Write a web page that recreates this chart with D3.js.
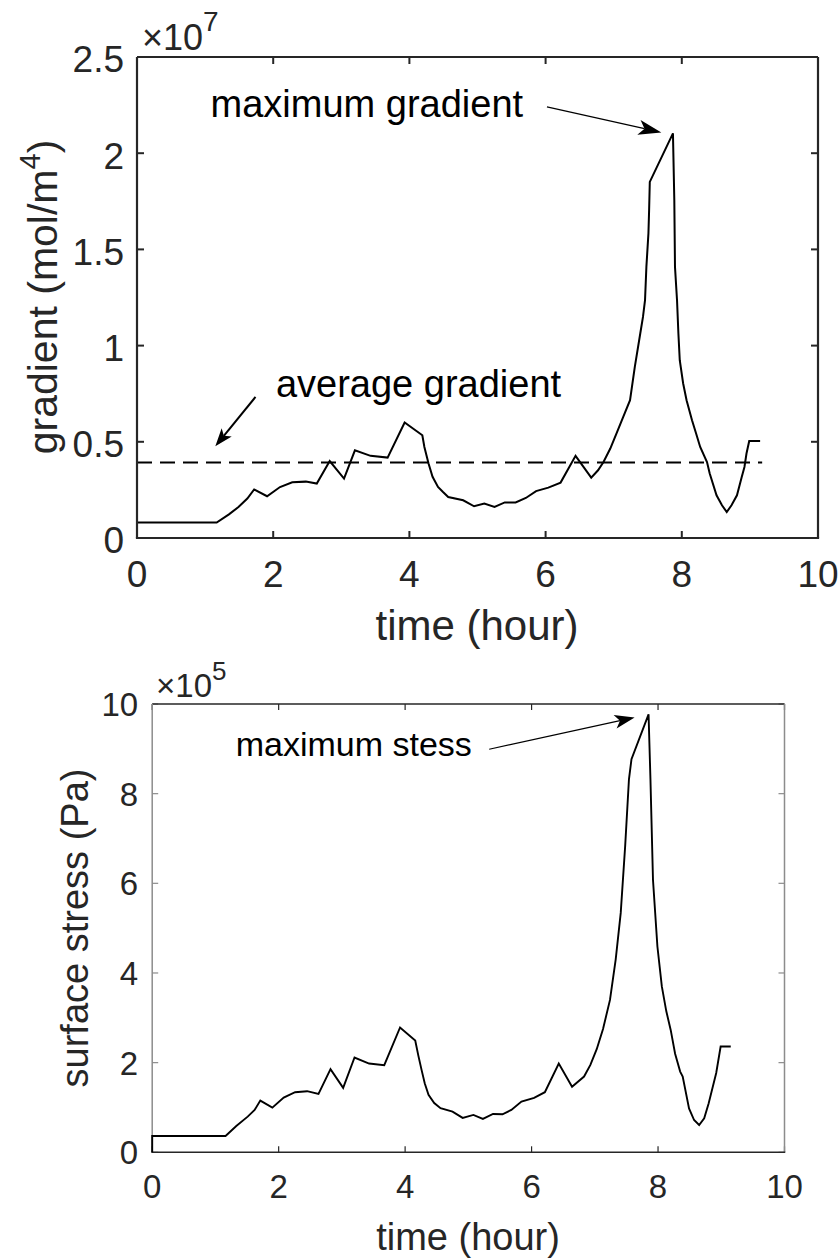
<!DOCTYPE html>
<html>
<head>
<meta charset="utf-8">
<script src="https://cdn.jsdelivr.net/npm/d3@7"></script>
<style>
  html, body { margin: 0; padding: 0; background: #fff; }
  svg { display: block; }
  text { font-family: "Liberation Sans", Arial, Helvetica, sans-serif; }
</style>
</head>
<body>
<svg id="chart" width="840" height="1260"></svg>
<script>
// ---------------- DATA ----------------
// Top panel: concentration gradient (units of 1e7 mol/m^4) vs time (hour)
const gradTime = [0, 0, 1.17, 1.35, 1.49, 1.62, 1.72, 1.91, 2.10, 2.28, 2.48, 2.64, 2.83, 3.04, 3.20, 3.43, 3.68, 3.93, 4.19, 4.22, 4.28, 4.34, 4.42, 4.49, 4.57, 4.79, 4.95, 5.10, 5.25, 5.40, 5.56, 5.71, 5.86, 6.04, 6.22, 6.44, 6.67, 6.77, 6.85, 6.95, 7.04, 7.14, 7.24, 7.31, 7.39, 7.43, 7.46, 7.48, 7.51, 7.52, 7.53, 7.87, 7.89, 7.90, 7.93, 7.95, 7.97, 8.02, 8.07, 8.15, 8.21, 8.27, 8.37, 8.41, 8.51, 8.59, 8.66, 8.73, 8.81, 8.88, 8.92, 8.95, 8.99, 9.15];
const gradValue = [0, 0.080, 0.080, 0.123, 0.161, 0.205, 0.252, 0.217, 0.265, 0.290, 0.293, 0.283, 0.400, 0.309, 0.456, 0.427, 0.418, 0.600, 0.534, 0.473, 0.388, 0.318, 0.265, 0.240, 0.213, 0.196, 0.165, 0.179, 0.162, 0.185, 0.185, 0.208, 0.244, 0.262, 0.288, 0.427, 0.314, 0.352, 0.395, 0.465, 0.543, 0.629, 0.716, 0.889, 1.063, 1.149, 1.236, 1.409, 1.583, 1.704, 1.851, 2.103, 1.756, 1.409, 1.236, 1.063, 0.924, 0.803, 0.716, 0.612, 0.543, 0.473, 0.395, 0.335, 0.222, 0.170, 0.135, 0.170, 0.222, 0.317, 0.369, 0.439, 0.504, 0.504];
const gradAverage = 0.392;          // dashed line value (x1e7)
const gradAverageSpan = [0, 9.18];  // hours

// Bottom panel: surface stress (units of 1e5 Pa) vs time (hour)
const stressTime = [0, 0, 1.16, 1.33, 1.51, 1.62, 1.71, 1.90, 2.08, 2.26, 2.45, 2.63, 2.82, 3.02, 3.20, 3.43, 3.67, 3.92, 4.16, 4.21, 4.26, 4.31, 4.37, 4.46, 4.56, 4.75, 4.91, 5.08, 5.23, 5.39, 5.54, 5.68, 5.84, 6.04, 6.21, 6.43, 6.64, 6.83, 6.93, 7.03, 7.13, 7.24, 7.33, 7.41, 7.48, 7.54, 7.58, 7.85, 7.88, 7.92, 7.99, 8.06, 8.13, 8.20, 8.27, 8.35, 8.39, 8.49, 8.57, 8.65, 8.73, 8.80, 8.92, 8.99, 9.15];
const stressValue = [0, 0.364, 0.364, 0.588, 0.796, 0.945, 1.153, 0.997, 1.220, 1.341, 1.363, 1.303, 1.854, 1.437, 2.114, 1.980, 1.944, 2.785, 2.494, 2.150, 1.839, 1.540, 1.280, 1.100, 0.983, 0.907, 0.767, 0.834, 0.744, 0.856, 0.849, 0.945, 1.131, 1.213, 1.341, 1.980, 1.462, 1.690, 1.950, 2.300, 2.750, 3.400, 4.300, 5.340, 6.830, 8.320, 8.770, 9.770, 8.320, 6.080, 4.590, 3.700, 3.150, 2.730, 2.200, 1.800, 1.690, 0.980, 0.720, 0.610, 0.760, 1.090, 1.770, 2.360, 2.360];

// Tick labels
const xTicks = [0, 2, 4, 6, 8, 10];
const gradTicks = [0, 0.5, 1, 1.5, 2, 2.5];
const gradTickLabels = ["0", "0.5", "1", "1.5", "2", "2.5"];
const stressTicks = [0, 2, 4, 6, 8, 10];
const stressTickLabels = ["0", "2", "4", "6", "8", "10"];

// Texts
const xLabel = "time (hour)";
const gradLabel = ["gradient (mol/m", "4", ")"];
const stressLabel = "surface stress (Pa)";
const gradExponent = "7";
const stressExponent = "5";
const annMaxGrad = "maximum gradient";
const annAvgGrad = "average gradient";
const annMaxStress = "maximum stess";

// ---------------- DRAW ----------------
const svg = d3.select("#chart");
const INK = "#262626";

function arrow(g, x1, y1, x2, y2, width, headLen, headW) {
  const ang = Math.atan2(y2 - y1, x2 - x1);
  const ux = Math.cos(ang), uy = Math.sin(ang);
  const px = -uy, py = ux;
  const bx = x2 - ux * headLen, by = y2 - uy * headLen;
  const nx = x2 - ux * headLen * 0.75, ny = y2 - uy * headLen * 0.75;
  g.append("line")
    .attr("x1", x1).attr("y1", y1).attr("x2", nx).attr("y2", ny)
    .attr("stroke", "#000").attr("stroke-width", width);
  g.append("path")
    .attr("d", `M${x2},${y2} L${bx + px * headW / 2},${by + py * headW / 2} L${nx},${ny} L${bx - px * headW / 2},${by - py * headW / 2} Z`)
    .attr("fill", "#000");
}

function drawFrame(g, x, y, yTicks, yTickLabels, o) {
  const [x0, x1] = x.range();
  const [y0, y1] = y.range();
  xTicks.forEach(t => {
    const px = x(t);
    g.append("line").attr("x1", px).attr("x2", px).attr("y1", y0).attr("y2", y0 - o.tickLen)
      .attr("stroke", o.bottomColor).attr("stroke-width", o.tickW);
    g.append("line").attr("x1", px).attr("x2", px).attr("y1", y1).attr("y2", y1 + o.tickLen)
      .attr("stroke", o.topColor).attr("stroke-width", o.tickW);
  });
  yTicks.forEach(t => {
    const py = y(t);
    g.append("line").attr("x1", x0).attr("x2", x0 + o.tickLen).attr("y1", py).attr("y2", py)
      .attr("stroke", o.leftColor).attr("stroke-width", o.tickW);
    g.append("line").attr("x1", x1).attr("x2", x1 - o.tickLen).attr("y1", py).attr("y2", py)
      .attr("stroke", o.rightColor).attr("stroke-width", o.tickW);
  });
  g.append("line").attr("x1", x0).attr("x2", x1).attr("y1", y1).attr("y2", y1).attr("stroke", o.topColor).attr("stroke-width", o.axisW);
  g.append("line").attr("x1", x1).attr("x2", x1).attr("y1", y0).attr("y2", y1).attr("stroke", o.rightColor).attr("stroke-width", o.axisW);
  g.append("line").attr("x1", x0).attr("x2", x0).attr("y1", y0).attr("y2", y1).attr("stroke", o.leftColor).attr("stroke-width", o.axisW);
  g.append("line").attr("x1", x0 - o.axisW / 2).attr("x2", x1 + o.axisW / 2).attr("y1", y0).attr("y2", y0).attr("stroke", o.bottomColor).attr("stroke-width", o.axisW);

  xTicks.forEach(t => {
    g.append("text").attr("x", x(t)).attr("y", y0 + o.xTickOffset).attr("text-anchor", "middle")
      .attr("font-size", o.tickFont).attr("fill", INK).text(String(t));
  });
  yTicks.forEach((t, i) => {
    g.append("text").attr("x", x0 - o.yTickGap).attr("y", y(t) + o.tickFont * 0.36 + o.yTickShift)
      .attr("text-anchor", "end").attr("font-size", o.tickFont).attr("fill", INK).text(yTickLabels[i]);
  });
}

function exponentLabel(g, x, y, size, expSize, rise, exp) {
  const t = g.append("text").attr("x", x).attr("y", y).attr("font-size", size).attr("fill", INK);
  t.append("tspan").text("×");
  t.append("tspan").text("10");
  t.append("tspan").attr("font-size", expSize).attr("dy", -rise).text(exp);
}

// ---------- Top panel ----------
{
  const g = svg.append("g");
  const x = d3.scaleLinear().domain([0, 10]).range([137, 818]);
  const y = d3.scaleLinear().domain([0, 2.5]).range([538, 57]);
  const o = { tickLen: 7, tickW: 2, axisW: 2.2, topColor: INK, bottomColor: INK, leftColor: INK, rightColor: INK,
              tickFont: 37, xTickOffset: 49, yTickGap: 13, yTickShift: 2 };

  g.append("line")
    .attr("x1", x(gradAverageSpan[0])).attr("x2", x(gradAverageSpan[1]))
    .attr("y1", y(gradAverage)).attr("y2", y(gradAverage))
    .attr("stroke", "#000").attr("stroke-width", 2).attr("stroke-dasharray", "15,8");

  const line = d3.line().x(d => x(d[0])).y(d => y(d[1]));
  g.append("path")
    .datum(gradTime.map((t, i) => [t, gradValue[i]]))
    .attr("d", line).attr("fill", "none").attr("stroke", "#000").attr("stroke-width", 2)
    .attr("stroke-linejoin", "miter");

  drawFrame(g, x, y, gradTicks, gradTickLabels, o);

  exponentLabel(g, 142, 50, 36, 28, 19, gradExponent);

  g.append("text").attr("x", 477).attr("y", 640).attr("text-anchor", "middle")
    .attr("font-size", 42).attr("fill", INK).text(xLabel);
  const yl = g.append("text").attr("transform", "translate(57,297) rotate(-90)")
    .attr("text-anchor", "middle").attr("font-size", 41).attr("fill", INK);
  yl.append("tspan").text(gradLabel[0]);
  yl.append("tspan").attr("font-size", 29).attr("dy", -17).text(gradLabel[1]);
  yl.append("tspan").attr("dy", 17).text(gradLabel[2]);

  g.append("text").attr("x", x(1.08)).attr("y", y(2.189)).attr("font-size", 38).attr("fill", "#000").text(annMaxGrad);
  arrow(g, x(6.02), y(2.241), x(7.70), y(2.108), 1.2, 23, 15);
  g.append("text").attr("x", x(2.04)).attr("y", y(0.733)).attr("font-size", 38).attr("fill", "#000").text(annAvgGrad);
  arrow(g, x(1.74), y(0.733), x(1.15), y(0.477), 2, 18, 13);
}

// ---------- Bottom panel ----------
{
  const g = svg.append("g");
  const x = d3.scaleLinear().domain([0, 10]).range([152.2, 784.5]);
  const y = d3.scaleLinear().domain([0, 10]).range([1152.3, 704]);
  const o = { tickLen: 6, tickW: 1.2, axisW: 1.5, topColor: INK, bottomColor: INK, leftColor: "#8c8c8c", rightColor: "#8c8c8c",
              tickFont: 33, xTickOffset: 46, yTickGap: 14, yTickShift: 0 };

  const line = d3.line().x(d => x(d[0])).y(d => y(d[1]));
  drawFrame(g, x, y, stressTicks, stressTickLabels, o);
  g.append("path")
    .datum(stressTime.map((t, i) => [t, stressValue[i]]))
    .attr("d", line).attr("fill", "none").attr("stroke", "#000").attr("stroke-width", 1.9);

  exponentLabel(g, 156, 697, 33, 26, 17, stressExponent);

  g.append("text").attr("x", 468).attr("y", 1250).attr("text-anchor", "middle")
    .attr("font-size", 38).attr("fill", INK).text(xLabel);
  g.append("text").attr("transform", "translate(88,928) rotate(-90)")
    .attr("text-anchor", "middle").attr("font-size", 38).attr("fill", INK).text(stressLabel);

  g.append("text").attr("x", x(1.32)).attr("y", y(8.83)).attr("font-size", 34).attr("fill", "#000").text(annMaxStress);
  arrow(g, x(5.33), y(8.99), x(7.63), y(9.70), 1.2, 20, 14);
}
</script>
</body>
</html>
